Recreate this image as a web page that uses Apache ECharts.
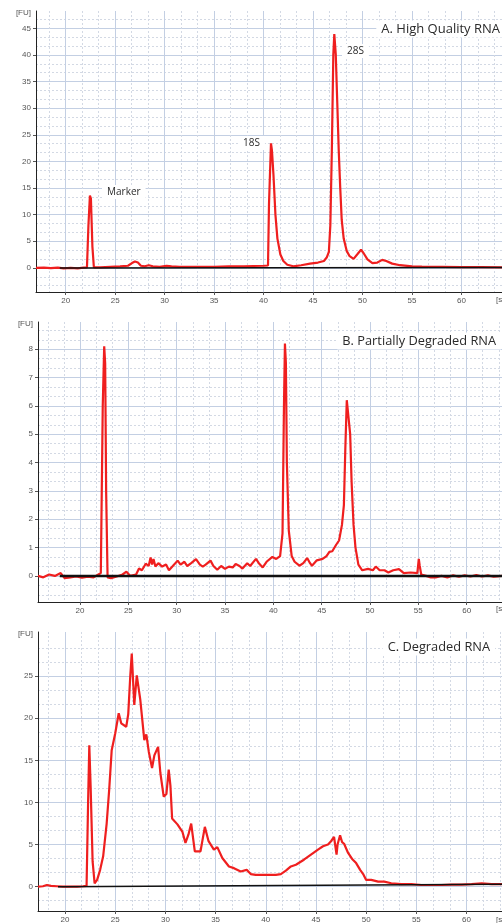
<!DOCTYPE html>
<html>
<head>
<meta charset="utf-8">
<script src="https://cdn.jsdelivr.net/npm/echarts@6/dist/echarts.min.js"></script>
<style>
  html, body { margin: 0; padding: 0; background: #fff; }
  #chart { width: 502px; height: 923px; }
</style>
</head>
<body>
<div id="chart"></div>
<script>
// A. High Quality RNA  (time [s], fluorescence [FU])
var aTime = [17.0, 17.8, 18.5, 19.2, 19.8, 20.5, 21.2, 21.8, 22.15, 22.3, 22.45, 22.55, 22.7, 22.85, 23.5, 24.5, 25.5, 26.3, 26.7, 27.0, 27.3, 27.6, 28.0, 28.4, 28.8, 29.5, 30.2, 30.4, 30.7, 31.5, 33, 35, 36.5, 38, 39, 40.0, 40.45, 40.55, 40.75, 40.85, 41.0, 41.2, 41.4, 41.7, 42.0, 42.4, 43.0, 43.8, 44.7, 45.5, 46.1, 46.4, 46.6, 46.75, 46.9, 47.05, 47.15, 47.3, 47.45, 47.6, 47.75, 47.9, 48.1, 48.4, 48.7, 49.1, 49.5, 49.85, 50.1, 50.5, 51.0, 51.5, 52.0, 52.4, 53.0, 53.8, 55, 56, 58, 60, 62, 64.1];
var aFU = [0, 0.05, -0.05, 0.05, -0.1, 0, -0.1, 0.05, 0.1, 8, 13.6, 13.0, 4, 0.1, 0.1, 0.2, 0.3, 0.4, 0.9, 1.2, 1.0, 0.4, 0.3, 0.5, 0.3, 0.2, 0.4, 0.7, 0.3, 0.2, 0.2, 0.2, 0.3, 0.3, 0.35, 0.4, 0.45, 12, 23.4, 22, 17.5, 10, 5.5, 2.5, 1.3, 0.6, 0.3, 0.5, 0.8, 1.0, 1.3, 2.0, 3.0, 8, 22, 40, 43.9, 40, 31, 22, 15, 9, 5.5, 3.2, 2.2, 1.7, 2.6, 3.4, 2.8, 1.6, 0.9, 1.0, 1.5, 1.3, 0.8, 0.5, 0.3, 0.25, 0.2, 0.15, 0.15, 0.1];
var aBaseTime = [19.4, 64.1];
var aBaseFU = [0, 0.05];

// B. Partially Degraded RNA
var bTime = [15.65, 16.2, 16.8, 17.4, 18.0, 18.4, 19.0, 19.6, 20.2, 20.8, 21.4, 21.9, 22.15, 22.35, 22.5, 22.6, 22.7, 22.85, 23.2, 23.8, 24.4, 24.8, 25.2, 25.8, 26.1, 26.4, 26.8, 27.1, 27.3, 27.45, 27.6, 27.8, 28.1, 28.5, 28.9, 29.2, 29.6, 30.1, 30.4, 30.8, 31.1, 31.5, 32.0, 32.4, 32.7, 33.0, 33.5, 33.8, 34.2, 34.6, 35.0, 35.4, 35.8, 36.1, 36.5, 36.8, 37.3, 37.6, 38.2, 38.5, 38.9, 39.3, 39.9, 40.3, 40.7, 40.95, 41.1, 41.2, 41.3, 41.4, 41.6, 41.9, 42.2, 42.7, 43.1, 43.5, 43.8, 44.0, 44.5, 45.1, 45.5, 45.8, 46.1, 46.5, 46.8, 47.1, 47.3, 47.45, 47.6, 47.8, 47.95, 48.1, 48.3, 48.5, 48.8, 49.2, 49.8, 50.3, 50.6, 51.0, 51.5, 51.9, 52.4, 53.0, 53.5, 54.2, 54.9, 55.05, 55.15, 55.3, 55.8, 56.3, 56.8, 57.4, 58.0, 58.6, 59.2, 59.8, 60.4, 61.0, 61.6, 62.2, 62.8, 63.66];
var bFU = [0, -0.05, 0.05, 0, 0.1, -0.08, -0.05, -0.02, -0.06, -0.03, -0.05, 0.05, 0.1, 6, 8.1, 7.5, 3, -0.05, -0.08, -0.02, 0.05, 0.15, 0, 0.05, 0.26, 0.2, 0.43, 0.35, 0.65, 0.4, 0.6, 0.33, 0.45, 0.33, 0.4, 0.2, 0.35, 0.54, 0.4, 0.5, 0.35, 0.45, 0.59, 0.4, 0.33, 0.4, 0.54, 0.35, 0.22, 0.35, 0.25, 0.33, 0.3, 0.42, 0.35, 0.26, 0.45, 0.35, 0.6, 0.45, 0.3, 0.5, 0.67, 0.6, 0.7, 1.5, 6, 8.2, 7.5, 4, 1.6, 0.7, 0.5, 0.36, 0.45, 0.63, 0.45, 0.36, 0.55, 0.6, 0.7, 0.85, 0.87, 1.1, 1.25, 1.8, 2.5, 4.5, 6.2, 6.2, 5, 3.3, 1.8, 1.0, 0.4, 0.2, 0.25, 0.2, 0.33, 0.2, 0.2, 0.12, 0.2, 0.24, 0.1, 0.12, 0.1, 0.6, 0.35, 0.05, 0, -0.05, -0.05, 0, -0.05, 0.02, -0.03, 0.02, -0.02, 0.03, -0.02, 0.02, -0.03, 0];
var bBaseTime = [17.9, 63.66];
var bBaseFU = [0, 0];

// C. Degraded RNA
var cTime = [17.31, 17.8, 18.2, 18.6, 19.2, 19.8, 20.5, 21.2, 21.8, 22.15, 22.3, 22.42, 22.55, 22.75, 22.95, 23.2, 23.5, 23.8, 24.15, 24.4, 24.65, 25.0, 25.35, 25.6, 26.1, 26.3, 26.5, 26.65, 26.8, 26.9, 27.15, 27.5, 27.9, 28.1, 28.35, 28.67, 28.9, 29.27, 29.5, 29.83, 30.1, 30.33, 30.5, 30.67, 31.2, 31.7, 32.0, 32.3, 32.57, 32.93, 33.5, 33.93, 34.3, 34.83, 35.17, 35.67, 36.33, 36.83, 37.5, 38.1, 38.5, 39.0, 39.8, 40.5, 41.0, 41.5, 42.0, 42.5, 43.0, 43.8, 44.5, 45.2, 45.7, 46.2, 46.5, 46.8, 47.05, 47.15, 47.4, 47.6, 47.8, 48.2, 48.6, 49.0, 49.4, 49.7, 50.0, 50.5, 51.2, 51.8, 52.5, 53.5, 54.5, 55.5, 56.5, 57.5, 58.5, 59.5, 60.5, 61.5, 62.5, 63.53];
var cFU = [0, 0.05, 0.2, 0.1, 0.05, 0, 0, 0, 0.05, 0.1, 10, 16.8, 12, 3, 0.4, 0.8, 2.0, 3.6, 7.5, 11.5, 16.2, 18.2, 20.6, 19.4, 19.0, 20.5, 25, 27.7, 24, 21.6, 25.1, 22.2, 17.4, 18.1, 16, 14.1, 15.6, 16.6, 13.5, 10.7, 11, 13.9, 12, 8.1, 7.4, 6.5, 5.2, 6.2, 7.5, 4.2, 4.2, 7.1, 5.4, 4.4, 4.7, 3.4, 2.4, 2.2, 1.8, 2.0, 1.5, 1.4, 1.4, 1.4, 1.4, 1.5, 1.9, 2.4, 2.6, 3.2, 3.8, 4.4, 4.8, 5.0, 5.4, 5.9, 3.8, 5.0, 6.1, 5.3, 5.1, 4.0, 3.3, 2.8, 2.0, 1.5, 0.8, 0.8, 0.6, 0.6, 0.4, 0.3, 0.3, 0.2, 0.2, 0.2, 0.25, 0.25, 0.3, 0.4, 0.3, 0.3];
var cBaseTime = [19.3, 63.53];
var cBaseFU = [0, 0.3];

// tick labels
var timeTicks = [20, 25, 30, 35, 40, 45, 50, 55, 60];
var aTicks = [0, 5, 10, 15, 20, 25, 30, 35, 40, 45];
var bTicks = [0, 1, 2, 3, 4, 5, 6, 7, 8];
var cTicks = [0, 5, 10, 15, 20, 25];

function zip(xs, ys) {
  return xs.map(function (x, i) { return [x, ys[i]]; });
}
// dotted grid: three divisions between each labelled tick
function minorSteps(from, to, major) {
  var out = [];
  var step = major / 3;
  for (var k = 0; from + k * step <= to + 1e-9; k++) {
    if (k % 3 !== 0) out.push(+(from + k * step).toFixed(4));
  }
  return out;
}

var majorColor = '#c3cfe3';
var minorColor = '#d3d9e4';
var tickFont = { fontSize: 8, color: '#555', fontFamily: 'Liberation Sans' };

var panels = [
  { grid: { left: 36, top: 11, width: 466, height: 281 }, x: [17, 64.1], y: [-4.53, 48.25], yTicks: aTicks, yMajor: 5 },
  { grid: { left: 38, top: 322, width: 464, height: 280 }, x: [15.65, 63.66], y: [-0.92, 8.96], yTicks: bTicks, yMajor: 1 },
  { grid: { left: 38, top: 632, width: 464, height: 279 }, x: [17.31, 63.53], y: [-2.89, 30.25], yTicks: cTicks, yMajor: 5 }
];

var grids = [], xAxes = [], yAxes = [];
panels.forEach(function (p, i) {
  grids.push(Object.assign({ outerBoundsMode: 'none', show: false }, p.grid));
  xAxes.push({
    type: 'value', gridIndex: i, min: p.x[0], max: p.x[1], position: 'bottom',
    axisLine: { show: true, onZero: false, lineStyle: { color: '#222', width: 1 } },
    axisTick: { show: true, length: 3, customValues: timeTicks, lineStyle: { color: '#555' } },
    axisLabel: Object.assign({ customValues: timeTicks, margin: 5 }, tickFont),
    splitLine: { show: true, lineStyle: { color: majorColor, width: 1 } }
  });
  xAxes.push({
    type: 'value', gridIndex: i, min: p.x[0], max: p.x[1], position: 'top',
    axisLine: { show: false },
    axisTick: { show: false, customValues: minorSteps(15, 65, 5) },
    axisLabel: { show: false },
    splitLine: { show: true, lineStyle: { color: minorColor, width: 1, type: [2, 2] } }
  });
  yAxes.push({
    type: 'value', gridIndex: i, min: p.y[0], max: p.y[1], position: 'left',
    name: '[FU]', nameLocation: 'end', nameGap: -2,
    nameTextStyle: { fontSize: 8, color: '#555', align: 'right', verticalAlign: 'middle', padding: [0, 5, 0, 0], fontFamily: 'Liberation Sans' },
    axisLine: { show: true, onZero: false, lineStyle: { color: '#222', width: 1 } },
    axisTick: { show: true, length: 3, customValues: p.yTicks, lineStyle: { color: '#555' } },
    axisLabel: Object.assign({ customValues: p.yTicks, margin: 5 }, tickFont),
    splitLine: { show: true, lineStyle: { color: majorColor, width: 1 } }
  });
  yAxes.push({
    type: 'value', gridIndex: i, min: p.y[0], max: p.y[1], position: 'right',
    axisLine: { show: false },
    axisTick: { show: false, customValues: minorSteps(-p.yMajor, p.y[1] + p.yMajor, p.yMajor) },
    axisLabel: { show: false },
    splitLine: { show: true, lineStyle: { color: minorColor, width: 1, type: [2, 2] } }
  });
});

var traces = [zip(aTime, aFU), zip(bTime, bFU), zip(cTime, cFU)];
var baselines = [zip(aBaseTime, aBaseFU), zip(bBaseTime, bBaseFU), zip(cBaseTime, cBaseFU)];
var baseWidth = [1.5, 2.5, 1.5];

var series = [];
traces.forEach(function (d, i) {
  series.push({
    type: 'line', xAxisIndex: i * 2, yAxisIndex: i * 2, data: d,
    showSymbol: false, smooth: false, z: 3,
    lineStyle: { color: '#ef1f1f', width: 2.2 }
  });
  series.push({
    type: 'line', xAxisIndex: i * 2, yAxisIndex: i * 2, data: baselines[i],
    showSymbol: false, z: 4,
    lineStyle: { color: '#111', width: baseWidth[i] }
  });
});

function label(text, x, y, size, align) {
  return {
    type: 'text', x: x, y: y, z: 100,
    style: {
      text: text, fill: '#2a2a2a', align: align || 'left', verticalAlign: 'middle',
      font: size + 'px "Open Sans", sans-serif',
      backgroundColor: '#fff', padding: [2, 5]
    }
  };
}
function unit(y) {
  return { type: 'text', x: 496, y: y, z: 100, style: { text: '[s]', fill: '#555', font: '8px "Liberation Sans"', verticalAlign: 'middle' } };
}

var chart = echarts.init(document.getElementById('chart'));
chart.setOption({
  animation: false,
  backgroundColor: '#fff',
  grid: grids,
  xAxis: xAxes,
  yAxis: yAxes,
  series: series,
  graphic: [
    label('A. High Quality RNA', 505, 29, 13, 'right'),
    label('28S', 342, 51, 10),
    label('18S', 238, 143, 10),
    label('Marker', 102, 192, 10),
    label('B. Partially Degraded RNA', 501, 341, 12.8, 'right'),
    label('C. Degraded RNA', 495, 647, 12.8, 'right'),
    unit(300), unit(609), unit(920)
  ]
});
</script>
</body>
</html>
